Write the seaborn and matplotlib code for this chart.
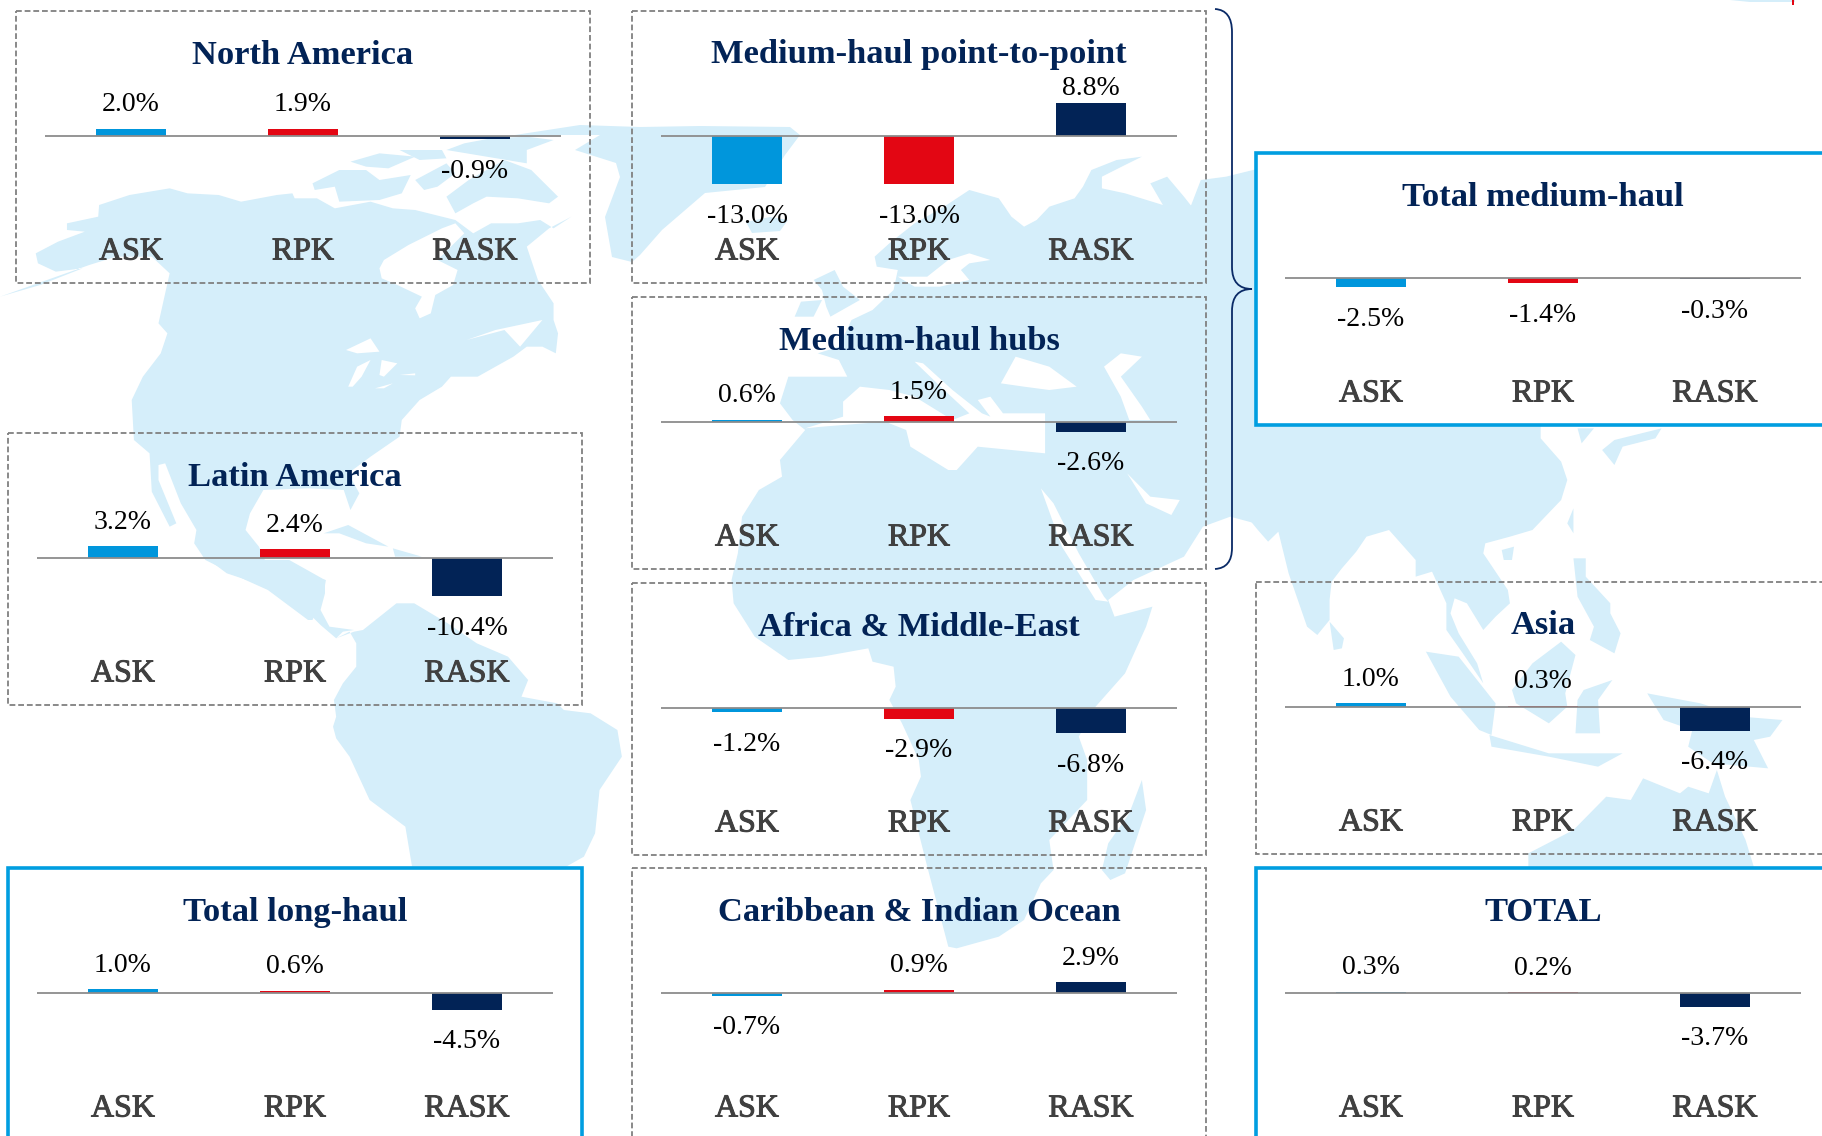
import matplotlib
matplotlib.use("Agg")
import matplotlib.pyplot as plt
import matplotlib.patheffects as pe
import seaborn as sns
from matplotlib.patches import Polygon, Rectangle, PathPatch
from matplotlib.path import Path

sns.set_theme(style="white")
plt.rcParams['font.family'] = ['Liberation Serif', 'DejaVu Serif']

# ---------- data ----------
METRICS = ["ASK", "RPK", "RASK"]
NORTH_AMERICA = [2.0, 1.9, -0.9]
LATIN_AMERICA = [3.2, 2.4, -10.4]
TOTAL_LONG_HAUL = [1.0, 0.6, -4.5]
MEDIUM_P2P = [-13.0, -13.0, 8.8]
MEDIUM_HUBS = [0.6, 1.5, -2.6]
AFRICA_ME = [-1.2, -2.9, -6.8]
CARIBBEAN_IO = [-0.7, 0.9, 2.9]
TOTAL_MEDIUM_HAUL = [-2.5, -1.4, -0.3]
ASIA = [1.0, 0.3, -6.4]
TOTAL = [0.3, 0.2, -3.7]

# title, values, frame left px, frame top px, solid frame, zero-line left px
PANELS = [
    ("North America", NORTH_AMERICA, 16, 11, False, 45),
    ("Latin America", LATIN_AMERICA, 8, 433, False, 37),
    ("Total long-haul", TOTAL_LONG_HAUL, 8, 868, True, 37),
    ("Medium-haul point-to-point", MEDIUM_P2P, 632, 11, False, 661),
    ("Medium-haul hubs", MEDIUM_HUBS, 632, 297, False, 661),
    ("Africa & Middle-East", AFRICA_ME, 632, 583, False, 661),
    ("Caribbean & Indian Ocean", CARIBBEAN_IO, 632, 868, False, 661),
    ("Total medium-haul", TOTAL_MEDIUM_HAUL, 1256, 153, True, 1285),
    ("Asia", ASIA, 1256, 582, False, 1285),
    ("TOTAL", TOTAL, 1256, 868, True, 1285),
]

W, H = 1822, 1136
BOX_W, BOX_H = 574, 272
AXIS_OFFSET = 125      # px from frame top to the zero line
PX_PER_PCT = 3.7
BLUE, RED, NAVY = "#0096DC", "#E30613", "#022356"
FRAME_BLUE = "#009EE0"
MAP = "#D5EEFA"

fig = plt.figure(figsize=(W / 100, H / 100), dpi=100, facecolor="white")

# ---------- background map (decorative, in canvas px) ----------
bg = fig.add_axes([0, 0, 1, 1], zorder=0)
bg.set_xlim(0, W)
bg.set_ylim(H, 0)
bg.axis("off")

def z4(p): return [(x / 2.24, 100 + y / 3) for x, y in p]
def z5(p): return [(200 + x / 2.24, 560 + y / 3) for x, y in p]
def z6(p): return [(620 + x / 2.376, 120 + y / 3) for x, y in p]
def z8(p): return [(1180 + x / 2.44, 400 + y / 3) for x, y in p]

land = [
    # North America
    z4([(0,590),(90,555),(185,505),(125,515),(85,490),(80,460),(130,425),(190,395),(150,390),(150,370),
        (220,350),(222,315),(290,285),(380,265),(420,280),(490,285),(540,305),(620,285),(655,280),(660,295),
        (710,295),(750,325),(830,305),(880,325),(930,330),(1020,360),(1060,400),(1100,370),(1160,370),(1210,360),
        (1240,385),(1280,350),(1230,385),(1180,440),(1190,480),(1205,540),(1240,610),(1240,660),(1250,700),
        (1245,760),(1215,740),(1180,740),(1150,770),(1070,830),(1010,830),(990,860),(940,900),(900,960),(895,1010),
        (830,1070),(780,1120),(805,1180),(785,1230),(770,1170),(690,1165),(590,1170),(560,1240),(550,1290),
        (580,1340),(600,1400),(660,1420),(730,1440),(725,1480),(700,1560),(690,1560),(600,1470),(550,1440),
        (460,1380),(435,1330),(440,1290),(405,1210),(370,1090),(355,1095),(355,1140),(395,1270),(380,1280),
        (340,1175),(335,1060),(300,1020),(295,900),(320,830),(360,760),(375,700),(355,670),(365,610),(380,520),
        (340,470),(260,470),(200,495)]),
    z4([(700,250),(760,210),(820,210),(850,240),(920,225),(900,280),(850,300),(760,305),(750,260),(705,270)]),
    z4([(785,185),(850,160),(930,170),(870,205),(820,200)]),
    z4([(895,150),(990,150),(1000,175),(940,180)]),
    z4([(930,240),(1000,190),(1020,220),(980,260),(950,270)]),
    z4([(1000,290),(1050,240),(1130,180),(1190,210),(1250,290),(1230,310),(1160,295),(1090,290),(1060,310),(1020,340)]),
    z4([(1040,130),(1100,115),(1180,110),(1240,120),(1180,150),(1180,190),(1090,170),(1000,150)]),
    z4([(725,1300),(780,1275),(870,1340),(820,1330),(760,1300)]),
    z4([(880,1345),(945,1370),(885,1370)]),
    # Central and South America
    z5([(20,0),(60,40),(105,60),(135,50),(165,90),(200,110),(240,155),(270,195),(305,235),(320,215),(345,210),
        (290,200),(270,150),(280,100),(280,60),(200,0)]),
    z5([(305,235),(335,215),(350,250),(350,320),(320,370),(300,420),(305,470),(298,500),(305,535),(335,590),
        (380,720),(460,800),(475,920),(820,920),(860,890),(885,820),(895,690),(945,590),(935,510),(875,460),
        (815,450),(800,430),(720,410),(735,360),(690,290),(620,250),(555,190),(480,130),(440,130),(365,210),(345,215)]),
    # Greenland and Iceland (canvas px)
    [(515,135),(580,125),(640,127),(700,126),(790,127),(800,135),(785,155),(765,187),(705,193),(662,230),(640,255),
     (632,262),(612,257),(605,217),(620,177),(616,163),(575,150),(600,135)],
    [(746,222),(770,217),(788,220),(780,231),(752,233)],
    # Eurasia and Africa
    z6([(605,410),(640,370),(700,310),(770,260),(830,210),(900,235),(930,290),(960,320),(990,300),(1020,260),
        (1080,235),(1100,200),(1120,150),(1180,120),(1240,110),(1200,135),(1145,170),(1145,205),(1200,220),
        (1290,255),(1260,190),(1300,170),(1340,230),(1365,270),(1345,295),(1380,180),(1440,170),(1568,130),
        (1568,1230),(1450,1190),(1385,1220),(1340,1310),(1220,1380),(1160,1440),(1175,1490),(1265,1460),(1250,1520),
        (1200,1660),(1130,1760),(1090,1850),(1110,1920),(1110,2040),(1020,2160),(1030,2250),(1000,2290),(960,2400),
        (900,2450),(800,2485),(780,2480),(730,2240),(690,2040),(715,1970),(710,1920),(670,1810),(640,1740),(655,1700),
        (650,1640),(600,1625),(590,1585),(480,1610),(400,1620),(320,1550),(270,1450),(265,1380),(280,1300),(290,1190),
        (330,1110),(385,1070),(380,1020),(440,930),(410,900),(380,850),(400,770),(540,770),(520,720),(470,700),
        (520,680),(550,600),(600,570),(650,510),(660,450),(610,440)]),
    z6([(460,480),(510,450),(530,500),(570,540),(500,590),(490,560),(480,510)]),
    z6([(415,590),(430,545),(480,540),(460,590)]),
    z6([(1145,2250),(1160,2170),(1210,2080),(1240,1980),(1250,2070),(1200,2260),(1165,2280)]),
    # Asia
    z8([(150,330),(190,390),(215,425),(240,395),(265,520),(310,680),(335,705),(365,660),(365,600),(370,545),(395,505),
        (430,455),(455,410),(510,390),(575,480),(575,530),(615,515),(650,610),(650,690),(690,760),(740,850),(725,790),
        (680,700),(660,640),(670,595),(700,610),(740,690),(770,650),(805,610),(800,570),(740,460),(745,430),(805,410),
        (860,390),(930,300),(945,240),(930,185),(880,115),(880,0),(0,0),(0,320),(100,330)]),
    z8([(970,85),(1010,85),(980,130)]),
    z8([(1030,150),(1060,120),(1175,85),(1160,115),(1080,140),(1060,195)]),
    z8([(945,370),(960,325),(960,400)]),
    z8([(785,450),(815,440),(810,480),(790,480)]),
    z8([(960,475),(990,475),(990,530),(1050,610),(1050,640),(1075,700),(1060,760),(1000,720),(1010,680),(970,590)]),
    z8([(365,665),(400,715),(395,745),(375,750)]),
    z8([(600,755),(680,770),(770,910),(760,1005),(730,990),(660,890)]),
    z8([(755,1005),(900,1060),(1030,1060),(1080,1060),(1020,1100),(900,1070),(760,1040)]),
    z8([(930,725),(965,765),(940,880),(945,920),(900,970),(820,910),(810,870),(860,790)]),
    z8([(985,870),(1055,840),(1020,900),(1025,1000),(965,1000),(970,900)]),
    z8([(1140,880),(1270,910),(1370,950),(1470,960),(1440,1010),(1400,1020),(1435,1105),(1300,1090),(1240,1040),(1250,990),(1180,960)]),
    z8([(850,1400),(850,1360),(960,1290),(1040,1190),(1100,1200),(1130,1135),(1220,1180),(1240,1160),(1290,1180),
        (1310,1110),(1330,1190),(1380,1320),(1400,1400)]),
    [(1730,0),(1795,0),(1795,2),(1750,2)],
]
water = [
    # Hudson Bay, Gulf of St Lawrence, Great Lakes
    z4([(850,505),(860,480),(915,435),(990,385),(1020,370),(1040,400),(980,480),(1025,510),(1015,555),(975,585),
        (965,640),(940,655),(930,625),(945,590),(890,555),(855,535)]),
    z4([(1045,720),(1110,690),(1215,660),(1165,740),(1130,690)]),
    z4([(775,750),(830,715),(850,755),(800,760)]),
    z4([(780,860),(800,800),(830,780),(810,830),(790,860)]),
    z4([(850,825),(855,780),(890,790),(860,830)]),
    z4([(895,825),(930,820),(930,826)]),
    z4([(840,865),(880,850),(860,865)]),
    # Baltic, Mediterranean, Black Sea, Caspian, Red Sea, Persian Gulf
    z6([(730,470),(780,420),(830,400),(880,420),(830,430),(810,450),(830,480),(760,500),(700,500),(660,470)]),
    z6([(440,925),(530,890),(530,845),(570,800),(640,810),(700,830),(790,900),(830,880),(770,810),(700,725),(720,730),
        (790,810),(860,880),(880,890),(850,840),(880,830),(910,880),(1010,880),(1010,1000),(850,980),(800,1050),(780,1050),
        (690,980),(680,930),(630,905),(480,920)]),
    z6([(905,790),(940,710),(1020,740),(1085,800),(1020,810),(960,800)]),
    z6([(1150,740),(1190,700),(1240,710),(1190,770),(1240,860),(1260,900),(1210,900),(1190,830)]),
    z6([(1000,1105),(1030,1150),(1090,1300),(1150,1430),(1160,1445),(1130,1440),(1050,1280)]),
    z6([(1205,1060),(1260,1130),(1330,1140),(1310,1185),(1250,1150)]),
]
for p in land:
    bg.add_patch(Polygon(p, closed=True, fc=MAP, ec="none", zorder=1))
for p in water:
    bg.add_patch(Polygon(p, closed=True, fc="white", ec="none", zorder=2))
bg.add_patch(Rectangle((1792, 0), 2, 5, fc=RED, ec="none", zorder=3))

# ---------- frames ----------
for _, _, left, top, solid, _ in PANELS:
    if solid:
        bg.add_patch(Rectangle((left, top), BOX_W, BOX_H, fc="white", ec=FRAME_BLUE, lw=2.6, zorder=4))
    else:
        bg.add_patch(Rectangle((left, top), BOX_W, BOX_H, fc="none", ec="#808080", lw=1.3,
                               ls=(0, (3.2, 1.6)), zorder=4))

# ---------- bracket ----------
verts = [(1215, 9), (1232, 10), (1232, 32), (1232, 267), (1232, 289), (1252, 289),
         (1232, 289), (1232, 311), (1232, 548), (1232, 568), (1215, 569)]
codes = [Path.MOVETO, Path.CURVE3, Path.CURVE3, Path.LINETO, Path.CURVE3, Path.CURVE3,
         Path.CURVE3, Path.CURVE3, Path.LINETO, Path.CURVE3, Path.CURVE3]
bg.add_patch(PathPatch(Path(verts, codes), fc="none", ec="#0A2A66", lw=1.3, zorder=5))

# ---------- panels ----------
heavier = [pe.withStroke(linewidth=0.7, foreground="#404040")]
for title, values, left, top, solid, zero_left in PANELS:
    ax_w = 516
    ax = fig.add_axes([zero_left / W, 1 - (top + BOX_H) / H, ax_w / W, BOX_H / H], zorder=3)
    ax.patch.set_alpha(0)
    sns.barplot(x=METRICS, y=values, hue=METRICS, palette=[BLUE, RED, NAVY], saturation=1,
                width=0.405, legend=False, linewidth=0, ax=ax)
    ax.set_xlim(-0.5, 2.5)
    ax.set_ylim(-(BOX_H - AXIS_OFFSET) / PX_PER_PCT, AXIS_OFFSET / PX_PER_PCT)
    ax.axhline(0, color="#8C8C8C", lw=1.3, zorder=5)
    ax.set_xticks([])
    ax.set_yticks([])
    ax.set_xlabel("")
    ax.set_ylabel("")
    sns.despine(ax=ax, left=True, bottom=True)
    ax.text(1, (AXIS_OFFSET - 44) / PX_PER_PCT, title, ha="center", va="center",
            fontsize=24.8, fontweight="bold", color="#022356")
    for i, v in enumerate(values):
        gap = 15 if v > 8 else (24 if v > 0 else 32)
        ax.annotate(f"{v:.1f}%", xy=(i, v), xytext=(0, (gap if v > 0 else -gap) * 0.72),
                    textcoords="offset points", ha="center", va="center", fontsize=20, color="black")
        ax.text(i, -(241 - AXIS_OFFSET) / PX_PER_PCT, METRICS[i], ha="center", va="center",
                fontsize=23, color="#404040", path_effects=heavier)

fig.savefig("out.png", dpi=100)
